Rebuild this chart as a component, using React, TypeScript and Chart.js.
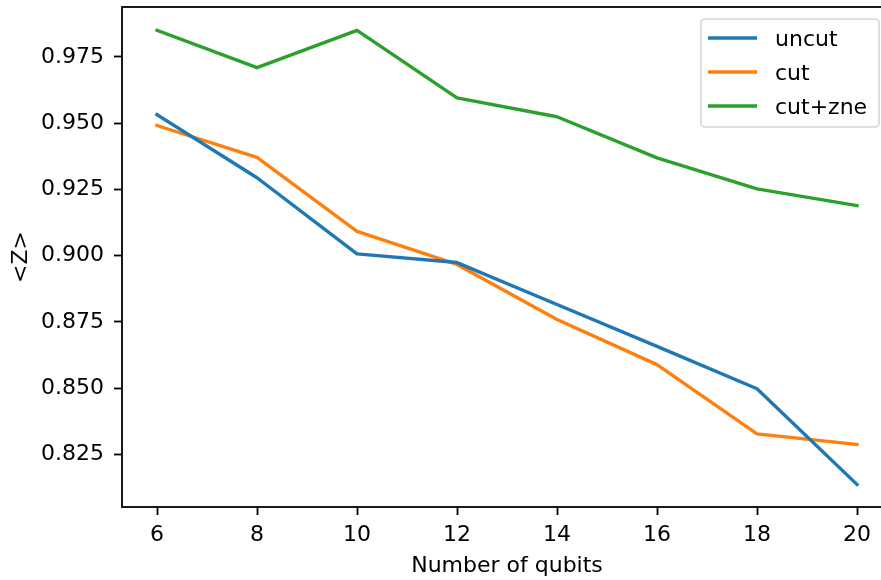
import React, { useEffect, useRef } from 'react';
import { Chart, registerables } from 'chart.js';

Chart.register(...registerables);

const qubits = [6, 8, 10, 12, 14, 16, 18, 20];
const uncut = [0.9532, 0.9294, 0.9007, 0.8974, 0.8816, 0.8658, 0.8498, 0.8137];
const cut = [0.9491, 0.9371, 0.9092, 0.8967, 0.8759, 0.8589, 0.8328, 0.8288];
const cutZne = [0.985, 0.9709, 0.985, 0.9595, 0.9524, 0.9369, 0.9252, 0.9189];
const seriesLabels = ['uncut', 'cut', 'cut+zne'];
const seriesColors = ['#1f77b4', '#ff7f0e', '#2ca02c'];
const xTicks = [6, 8, 10, 12, 14, 16, 18, 20];
const yTicks = [0.825, 0.85, 0.875, 0.9, 0.925, 0.95, 0.975];
const xTitle = 'Number of qubits';
const yTitle = '<Z>';

const FONT = '"DejaVu Sans", sans-serif';

const framePlugin = {
  id: 'frame',
  afterDatasetsDraw(chart: any) {
    const { ctx, chartArea } = chart;
    ctx.save();
    ctx.strokeStyle = '#000';
    ctx.lineWidth = 1.8;
    ctx.strokeRect(chartArea.left, chartArea.top, chartArea.right - chartArea.left - 1, chartArea.bottom - chartArea.top);
    ctx.restore();
  },
};

const legendPlugin = {
  id: 'mplLegend',
  afterDraw(chart: any) {
    const { ctx, chartArea } = chart;
    const bw = 178;
    const bh = 108;
    const bx = chartArea.right - 13 - bw;
    const by = chartArea.top + 12;
    ctx.save();
    ctx.beginPath();
    ctx.roundRect(bx, by, bw, bh, 4);
    ctx.fillStyle = 'rgba(255,255,255,0.8)';
    ctx.fill();
    ctx.strokeStyle = '#d6d6d6';
    ctx.lineWidth = 1.6;
    ctx.stroke();
    ctx.font = `22px ${FONT}`;
    ctx.textBaseline = 'alphabetic';
    ctx.textAlign = 'left';
    chart.data.datasets.forEach((ds: any, i: number) => {
      const y = by + 19 + i * 34;
      ctx.beginPath();
      ctx.strokeStyle = ds.borderColor;
      ctx.lineWidth = 3.4;
      ctx.lineCap = 'butt';
      ctx.moveTo(bx + 7, y);
      ctx.lineTo(bx + 56, y);
      ctx.stroke();
      ctx.fillStyle = '#000';
      ctx.fillText(ds.label, bx + 74, y + 8);
    });
    ctx.restore();
  },
};

export default function App() {
  const ref = useRef<HTMLCanvasElement>(null);
  useEffect(() => {
    if (!ref.current) return;
    const values = [uncut, cut, cutZne];
    const chart = new Chart(ref.current, {
      type: 'line',
      data: {
        datasets: values.map((vals, i) => ({
          label: seriesLabels[i],
          data: qubits.map((q, j) => ({ x: q, y: vals[j] })),
          borderColor: seriesColors[i],
          backgroundColor: seriesColors[i],
          borderWidth: 3.4,
          pointRadius: 0,
          tension: 0,
          borderJoinStyle: 'round',
          borderCapStyle: 'square',
          fill: false,
        })),
      },
      options: {
        responsive: false,
        animation: false,
        devicePixelRatio: 1,
        layout: { padding: { top: 7, right: 0, left: 0, bottom: 0 } },
        plugins: { legend: { display: false }, tooltip: { enabled: false } },
        scales: {
          x: {
            type: 'linear',
            min: 5.3,
            max: 20.7,
            afterBuildTicks: (s: any) => {
              s.ticks = xTicks.map((v) => ({ value: v }));
            },
            afterFit: (s: any) => {
              s.height = 73;
              s.paddingLeft = 0;
              s.paddingRight = 0;
            },
            ticks: {
              color: '#000',
              font: { family: FONT, size: 22, lineHeight: 1.2 },
              padding: 7,
              maxRotation: 0,
              autoSkip: false,
              callback: (v: any) => String(v),
            },
            grid: { display: true, drawOnChartArea: false, tickLength: 8, tickColor: '#000', tickWidth: 1.8 },
            border: { display: false },
            title: {
              display: true,
              text: xTitle,
              color: '#000',
              font: { family: FONT, size: 22, lineHeight: 1.2 },
              padding: { top: 0, bottom: 1 },
            },
          },
          y: {
            type: 'linear',
            min: 0.8052,
            max: 0.9938,
            afterBuildTicks: (s: any) => {
              s.ticks = yTicks.map((v) => ({ value: v }));
            },
            afterFit: (s: any) => {
              s.width = 122;
              s.paddingTop = 0;
              s.paddingBottom = 0;
            },
            ticks: {
              color: '#000',
              font: { family: FONT, size: 22, lineHeight: 1.2 },
              padding: 10,
              autoSkip: false,
              callback: (v: any) => Number(v).toFixed(3),
            },
            grid: { display: true, drawOnChartArea: false, tickLength: 8, tickColor: '#000', tickWidth: 1.8 },
            border: { display: false },
            title: {
              display: true,
              text: yTitle,
              color: '#000',
              font: { family: FONT, size: 22, lineHeight: 1.2 },
              padding: { top: 8, bottom: 0 },
            },
          },
        },
      },
      plugins: [framePlugin, legendPlugin],
    } as any);
    return () => chart.destroy();
  }, []);

  return (
    <div style={{ position: 'fixed', left: 0, top: 0, width: 881, height: 580, overflow: 'hidden', background: '#fff' }}>
      <canvas ref={ref} width={892} height={580} style={{ display: 'block' }} />
    </div>
  );
}
